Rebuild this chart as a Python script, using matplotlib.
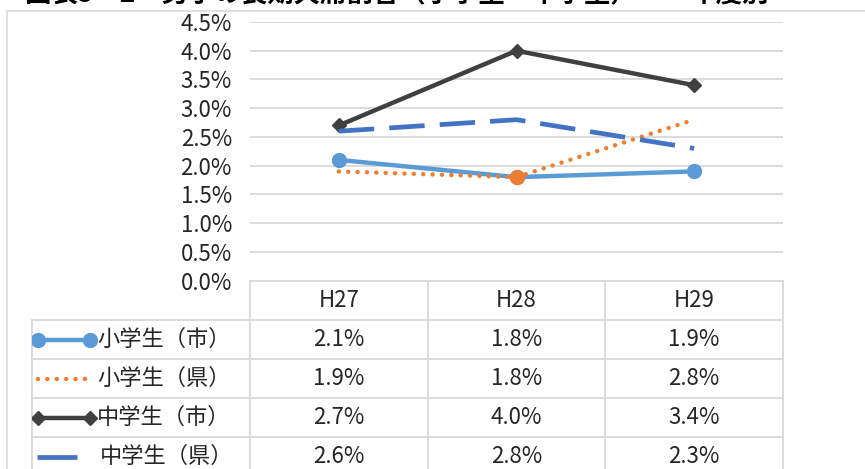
import matplotlib

matplotlib.use("Agg")
import matplotlib.pyplot as plt
from matplotlib.lines import Line2D
from matplotlib.patches import Rectangle

plt.rcParams["font.family"] = ["Noto Sans CJK JP", "DejaVu Sans"]

TITLE = "図表5－2　男子の長期欠席割合（小学生・中学生）　－年度別－"
years = ["H27", "H28", "H29"]
series_names = ["小学生（市）", "小学生（県）", "中学生（市）", "中学生（県）"]
elem_city = [2.1, 1.8, 1.9]
elem_pref = [1.9, 1.8, 2.8]
junior_city = [2.7, 4.0, 3.4]
junior_pref = [2.6, 2.8, 2.3]
y_ticks = [0.0, 0.5, 1.0, 1.5, 2.0, 2.5, 3.0, 3.5, 4.0, 4.5]

W, H = 865, 469
TEXT = "#262626"
GRID = "#d9d9d9"

styles = [
    dict(color="#5b9bd5", lw=3.2, ls="-", marker="o", ms=10, markevery=None, cap="butt"),
    dict(color="#ed7d31", lw=3.2, ls=(0, (0.01, 2.1)), marker="o", ms=10, markevery=[1], cap="round"),
    dict(color="#404040", lw=3.2, ls="-", marker="D", ms=7, markevery=None, cap="butt"),
    dict(color="#4472c4", lw=3.4, ls=(0, (7.5, 3.2)), marker=None, ms=0, markevery=None, cap="butt"),
]
values = [elem_city, elem_pref, junior_city, junior_pref]

fig = plt.figure(figsize=(W / 100, H / 100), dpi=100)

# outer chart frame
fig.patches.append(Rectangle((7 / W, -0.1), 1.2, (H - 11) / H + 0.1, transform=fig.transFigure,
                             fill=False, edgecolor=GRID, linewidth=1.2, clip_on=False))

# title, cut off by the top edge as in the source
fig.text(25 / W, (H - 2) / H, TITLE, fontsize=19, fontweight="bold", color="black",
         ha="left", va="baseline")

# plot area
ax = fig.add_axes([250 / W, (H - 280.6) / H, 533 / W, 258.6 / H])
ax.set_xlim(0, 3)
ax.set_ylim(0, 4.5)
for s in ax.spines.values():
    s.set_visible(False)
ax.set_yticks(y_ticks)
ax.set_yticklabels([f"{v:.1f}%" for v in y_ticks], fontsize=16, color=TEXT)
ax.tick_params(axis="y", length=0, pad=13)
ax.set_xticks([])
ax.grid(axis="y", color=GRID, linewidth=1.3)
ax.set_axisbelow(True)

xs = [i + 0.5 for i in range(len(years))]
for vals, st in zip(values, styles):
    ax.plot(xs, vals, color=st["color"], lw=st["lw"], ls=st["ls"], marker=st["marker"],
            ms=st["ms"], markevery=st["markevery"], solid_capstyle="butt",
            dash_capstyle=st["cap"], clip_on=False)

# data table under the plot, sharing the category columns
row_h = 39
left_px = 32
px = 533 / 3
x_left = (left_px - 250) / px
tab = fig.add_axes([left_px / W, (H - 281 - 5 * row_h) / H, (783 - left_px) / W, 5 * row_h / H])
tab.set_xlim(x_left, 3)
tab.set_ylim(5, 0)
tab.axis("off")

for x in range(4):
    tab.plot([x, x], [0, 5], color=GRID, lw=1.3, clip_on=False)
tab.plot([x_left, x_left], [1, 5], color=GRID, lw=1.3, clip_on=False)
tab.plot([0, 3], [0, 0], color=GRID, lw=1.3, clip_on=False)
for r in range(1, 5):
    tab.plot([x_left, 3], [r, r], color=GRID, lw=1.3, clip_on=False)

for i, yr in enumerate(years):
    tab.text(i + 0.5, 0.5, yr, ha="center", va="center", fontsize=16, color=TEXT)

for r, (name, vals, st) in enumerate(zip(series_names, values, styles), start=1):
    for i, v in enumerate(vals):
        tab.text(i + 0.5, r + 0.5, f"{v:.1f}%", ha="center", va="center", fontsize=16, color=TEXT)
    # legend key
    if r == 4:
        kx0, kx1, key_ls = x_left + 5 / px, x_left + 45 / px, "-"
    else:
        kx0, kx1, key_ls = x_left + 6 / px, x_left + 58 / px, st["ls"]
    key_marker = st["marker"] if st["markevery"] is None else None
    tab.add_line(Line2D([kx0, kx1], [r + 0.5, r + 0.5], color=st["color"], lw=st["lw"],
                        ls=key_ls, marker=key_marker, ms=st["ms"], solid_capstyle="butt",
                        dash_capstyle=st["cap"]))
    tab.text(x_left + 65 / px if r < 4 else x_left + 68 / px, r + 0.5, name,
             ha="left", va="center", fontsize=16, color=TEXT)

fig.savefig("out.png", dpi=100)
